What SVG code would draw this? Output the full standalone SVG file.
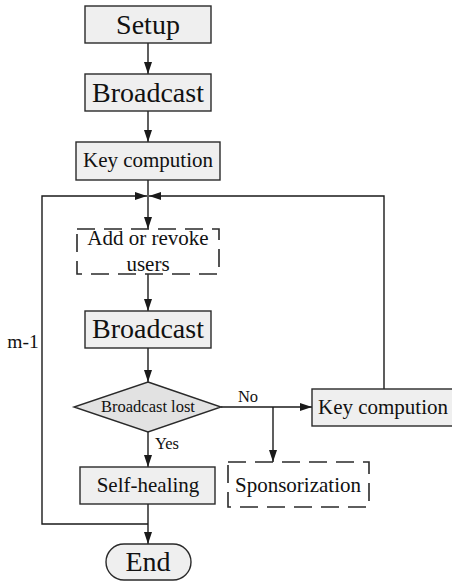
<svg xmlns="http://www.w3.org/2000/svg" width="452" height="582" viewBox="0 0 452 582">
<style>
.box{fill:#efefef;stroke:#2a2a2a;stroke-width:1.4}
.dbox{fill:none;stroke:#2a2a2a;stroke-width:1.6;stroke-dasharray:18,9}
.dia{fill:#e2e2e2;stroke:#2a2a2a;stroke-width:1.4}
.ln{fill:none;stroke:#1a1a1a;stroke-width:1.4}
text{font-family:"Liberation Serif","Times New Roman",serif;fill:#111;text-anchor:middle}
.big{font-size:28px}
.mid{font-size:21px}
.sm{font-size:16.5px}
</style>
<defs>
<marker id="ah" viewBox="0 0 12 10" refX="12" refY="5" markerWidth="12" markerHeight="10" markerUnits="userSpaceOnUse" orient="auto">
<path d="M0,1 L12,5 L0,9 Z" fill="#1a1a1a"/>
</marker>
</defs>
<g id="connectors">
<line class="ln" x1="148" y1="43" x2="148" y2="74" marker-end="url(#ah)"/>
<line class="ln" x1="148" y1="111" x2="148" y2="142" marker-end="url(#ah)"/>
<line class="ln" x1="148" y1="180" x2="148" y2="229" marker-end="url(#ah)"/>
<polyline class="ln" points="148,524 42,524 42,196 147,196" marker-end="url(#ah)"/>
<polyline class="ln" points="384,389 384,196 149,196" marker-end="url(#ah)"/>
<line class="ln" x1="148" y1="274" x2="148" y2="311" marker-end="url(#ah)"/>
<line class="ln" x1="148" y1="348" x2="148" y2="382" marker-end="url(#ah)"/>
<line class="ln" x1="221" y1="407" x2="312" y2="407" marker-end="url(#ah)"/>
<line class="ln" x1="273" y1="407" x2="273" y2="462" marker-end="url(#ah)"/>
<line class="ln" x1="148" y1="432" x2="148" y2="467" marker-end="url(#ah)"/>
<line class="ln" x1="148" y1="504" x2="148" y2="544" marker-end="url(#ah)"/>
<text class="sm" x="248" y="402">No</text>
<text class="sm" x="167" y="449">Yes</text>
<text x="23" y="348" style="font-size:19.5px">m-1</text>
</g>
<g id="setup">
<rect class="box" x="85" y="6" width="126" height="37"/>
<text class="big" x="148" y="34">Setup</text>
</g>
<g id="broadcast1">
<rect class="box" x="85" y="74" width="126" height="37"/>
<text class="big" x="148" y="102">Broadcast</text>
</g>
<g id="keycomp1">
<rect class="box" x="76" y="142" width="144" height="38"/>
<text class="mid" x="148" y="167">Key compution</text>
</g>
<g id="addrevoke">
<rect class="dbox" x="77" y="229" width="142" height="45"/>
<text class="mid" x="148" y="245">Add or revoke</text>
<text class="mid" x="148" y="271">users</text>
</g>
<g id="broadcast2">
<rect class="box" x="85" y="311" width="126" height="37"/>
<text class="big" x="148" y="338">Broadcast</text>
</g>
<g id="decision">
<polygon class="dia" points="148,382 221,407 148,432 74,407"/>
<text class="sm" x="148" y="412">Broadcast lost</text>
</g>
<g id="keycomp2">
<rect class="box" x="312" y="389" width="143" height="37"/>
<text class="mid" x="383" y="414">Key compution</text>
</g>
<g id="sponsor">
<rect class="dbox" x="228" y="462" width="141" height="45"/>
<text class="mid" x="298" y="492">Sponsorization</text>
</g>
<g id="selfheal">
<rect class="box" x="80" y="467" width="135" height="37"/>
<text class="mid" x="148" y="492">Self-healing</text>
</g>
<g id="end">
<rect class="box" x="106" y="544" width="85" height="36" rx="18" ry="18"/>
<text class="big" x="148" y="571">End</text>
</g>
</svg>
